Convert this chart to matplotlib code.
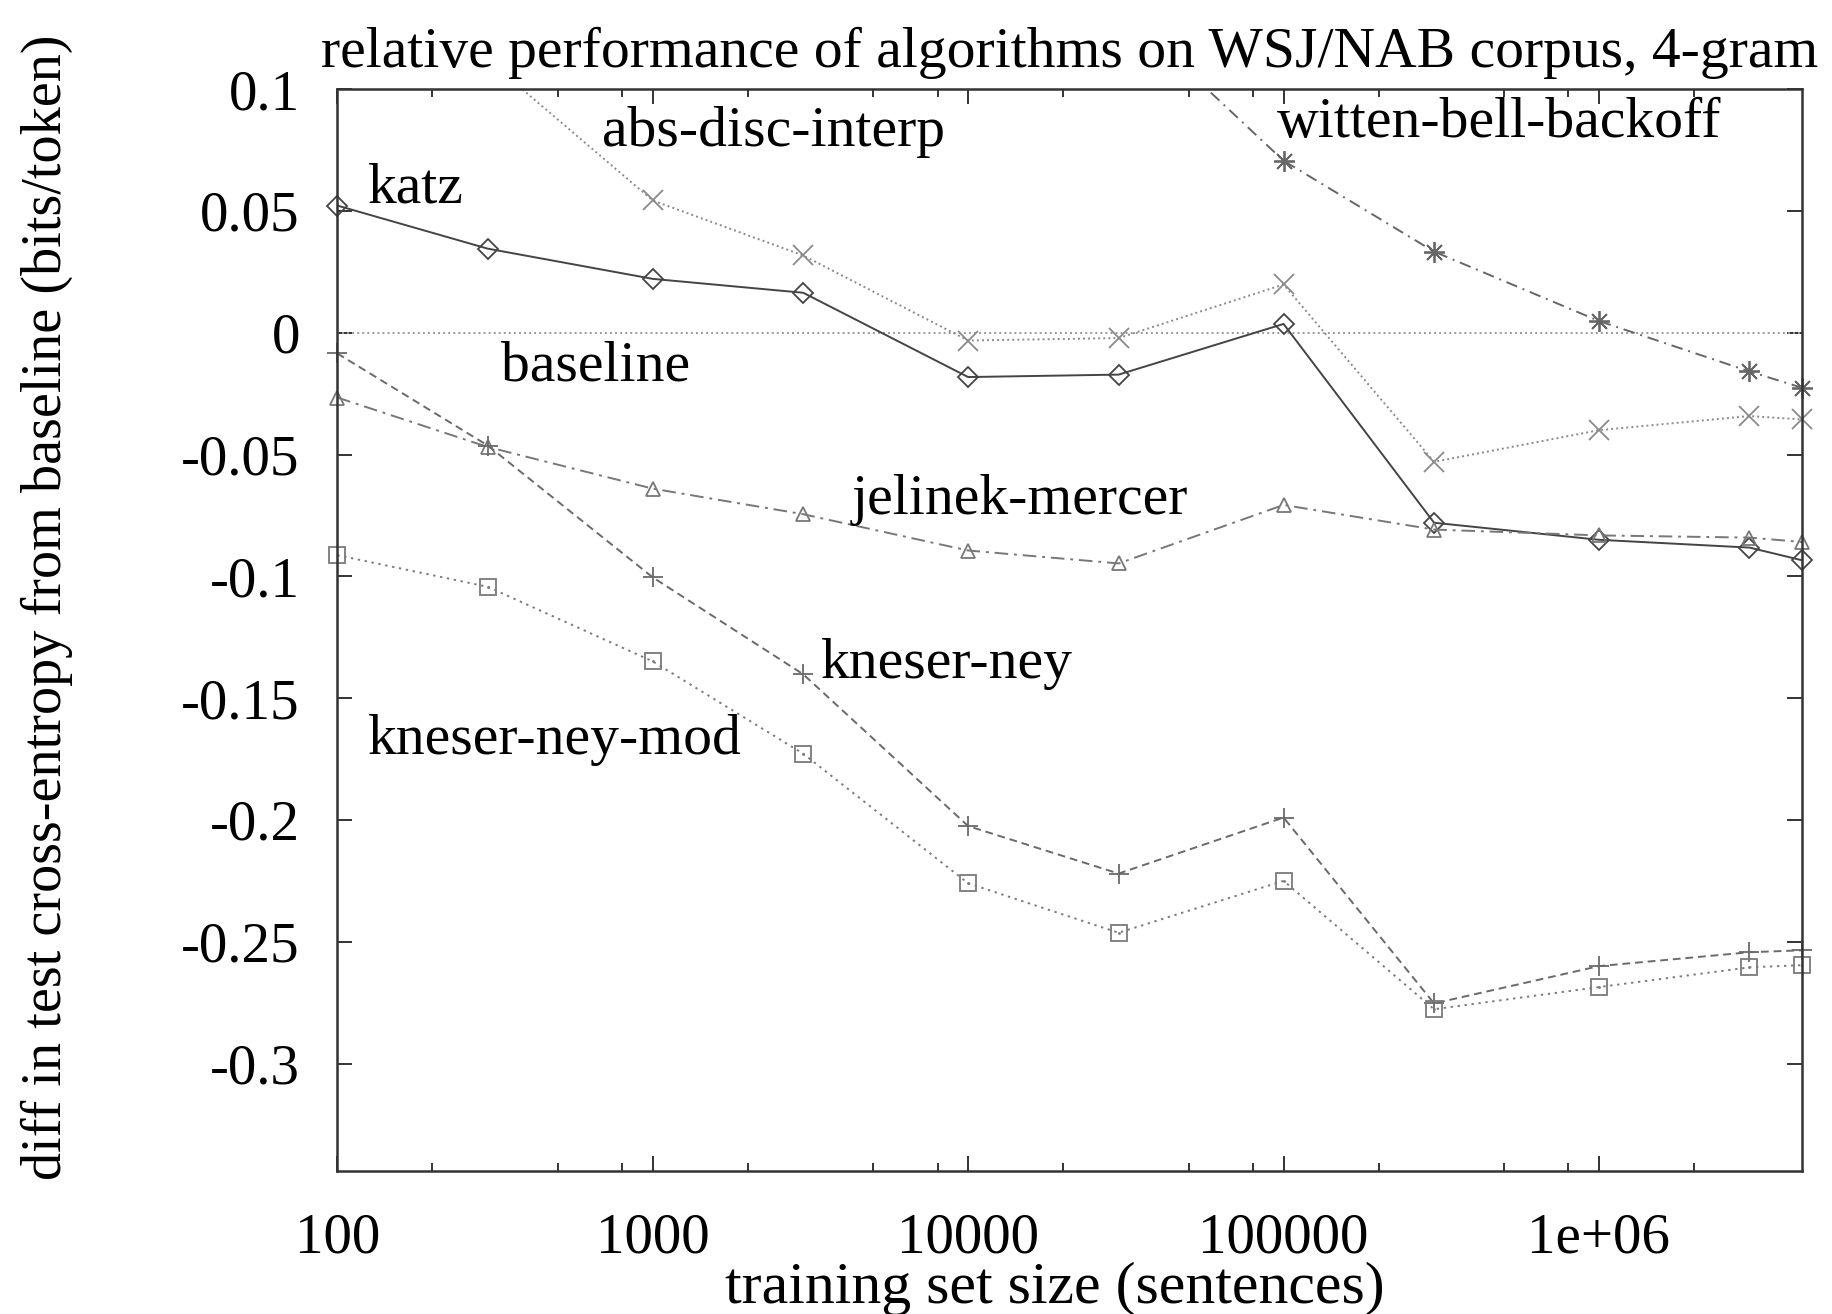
import matplotlib
matplotlib.use("Agg")
import matplotlib.pyplot as plt
import numpy as np

plt.rcParams["font.family"] = ["Liberation Serif", "DejaVu Serif"]
plt.rcParams["axes.unicode_minus"] = False

# training set sizes (sentences)
sizes = [100, 300, 1000, 3000, 10000, 30000, 100000, 300000, 1e6, 3e6, 4.4e6]

# diff in cross-entropy from baseline (bits/token)
katz = [0.0522, 0.0345, 0.0221, 0.0164, -0.0182, -0.0172, 0.0036, -0.078, -0.085, -0.0882, -0.0934]
abs_disc_interp = [0.112, 0.0543, 0.0317, -0.0032, -0.0022, 0.0198, -0.053, -0.040, -0.0342, -0.0356]
witten_bell_backoff = [0.134, 0.0706, 0.0333, 0.0048, -0.0159, -0.0226]
jelinek_mercer = [-0.0266, -0.0469, -0.064, -0.0745, -0.0894, -0.0947, -0.0707, -0.0808, -0.0832, -0.0841, -0.0859]
kneser_ney = [-0.0085, -0.0463, -0.1004, -0.1402, -0.2025, -0.222, -0.199, -0.2753, -0.260, -0.2543, -0.2535]
kneser_ney_mod = [-0.0913, -0.1043, -0.1349, -0.1728, -0.226, -0.2463, -0.225, -0.2777, -0.2686, -0.2605, -0.2596]

YLIM = (-0.344, 0.1)
XLIM = (100, 4.4e6)
TICK_FS = 41
LABEL_FS = 41.5

fig = plt.figure(figsize=(18.32, 13.14), dpi=100)
ax = fig.add_axes([0.1841, 0.1090, 0.7995, 0.8232])
ax.set_xscale("log")


def series(x, y, ls, color, marker, ms, mfc="none", mew=1.3):
    x = np.asarray(x, float)
    y = np.asarray(y, float)
    ax.plot(x, y, ls=ls, color=color, lw=1.4)
    # markers of points inside the y range, not cut in half at the frame
    keep = (y <= YLIM[1]) & (y >= YLIM[0])
    ax.plot(x[keep], y[keep], ls="none", marker=marker, ms=ms, mfc=mfc,
            mec=color, mew=mew, clip_on=False)


ax.axhline(0, color="#9a9a9a", lw=1.4, ls=(0, (1, 1.6)))
series(sizes, katz, "-", "#444444", "D", 10)
series(sizes[1:], abs_disc_interp, (0, (1, 1.6)), "#8a8a8a", "x", 14)
series(sizes[5:], witten_bell_backoff, (0, (6, 3, 1, 3)), "#666666", (8, 2, 0), 15)
series(sizes, jelinek_mercer, (0, (7, 3, 1.5, 3)), "#777777", "^", 10)
series(sizes, kneser_ney, (0, (4, 2.5)), "#6a6a6a", "+", 14)
series(sizes, kneser_ney_mod, (0, (1.2, 2.4)), "#7a7a7a", "s", 11)
ax.plot(sizes, kneser_ney_mod, ls="none", marker=".", ms=2, color="#7a7a7a")

labels = [
    ("katz", 124.8, 0.0533),
    ("abs-disc-interp", 692, 0.0765),
    ("witten-bell-backoff", 95000, 0.0805),
    ("baseline", 330, -0.0196),
    ("jelinek-mercer", 4260, -0.0746),
    ("kneser-ney", 3410, -0.1416),
    ("kneser-ney-mod", 124.8, -0.1728),
]
for text, lx, ly in labels:
    ax.text(lx, ly, text, fontsize=LABEL_FS, ha="left", va="baseline")

ax.set_xlim(XLIM)
ax.set_ylim(YLIM)
ax.set_xticks([100, 1000, 10000, 100000, 1e6])
ax.set_xticklabels(["100", "1000", "10000", "100000", "1e+06"])
minor = [m * 10.0 ** k for k in range(2, 7) for m in (2, 5, 8)]
ax.set_xticks([v for v in minor if v < XLIM[1]], minor=True)
ax.set_xticklabels([], minor=True)
yt = [0.1, 0.05, 0, -0.05, -0.1, -0.15, -0.2, -0.25, -0.3]
ax.set_yticks(yt)
ax.set_yticklabels(["%g" % v for v in yt])

ax.tick_params(which="both", direction="in", top=True, right=True,
               color="#333333", width=1.4, labelsize=TICK_FS)
ax.tick_params(which="major", length=11)
ax.tick_params(which="minor", length=6)
ax.tick_params(axis="x", pad=30)
ax.tick_params(axis="y", pad=27)
for s in ax.spines.values():
    s.set_linewidth(1.8)
    s.set_color("#333333")

ax.set_title("relative performance of algorithms on WSJ/NAB corpus, 4-gram",
             fontsize=41.5, pad=16)
ax.set_xlabel("training set size (sentences)", fontsize=43, va="center")
ax.xaxis.set_label_coords(0.49, -0.109)
ax.set_ylabel("diff in test cross-entropy from baseline (bits/token)",
              fontsize=40.5, va="center")
ax.yaxis.set_label_coords(-0.198, 0.521)

fig.savefig("out.png", dpi=100)
